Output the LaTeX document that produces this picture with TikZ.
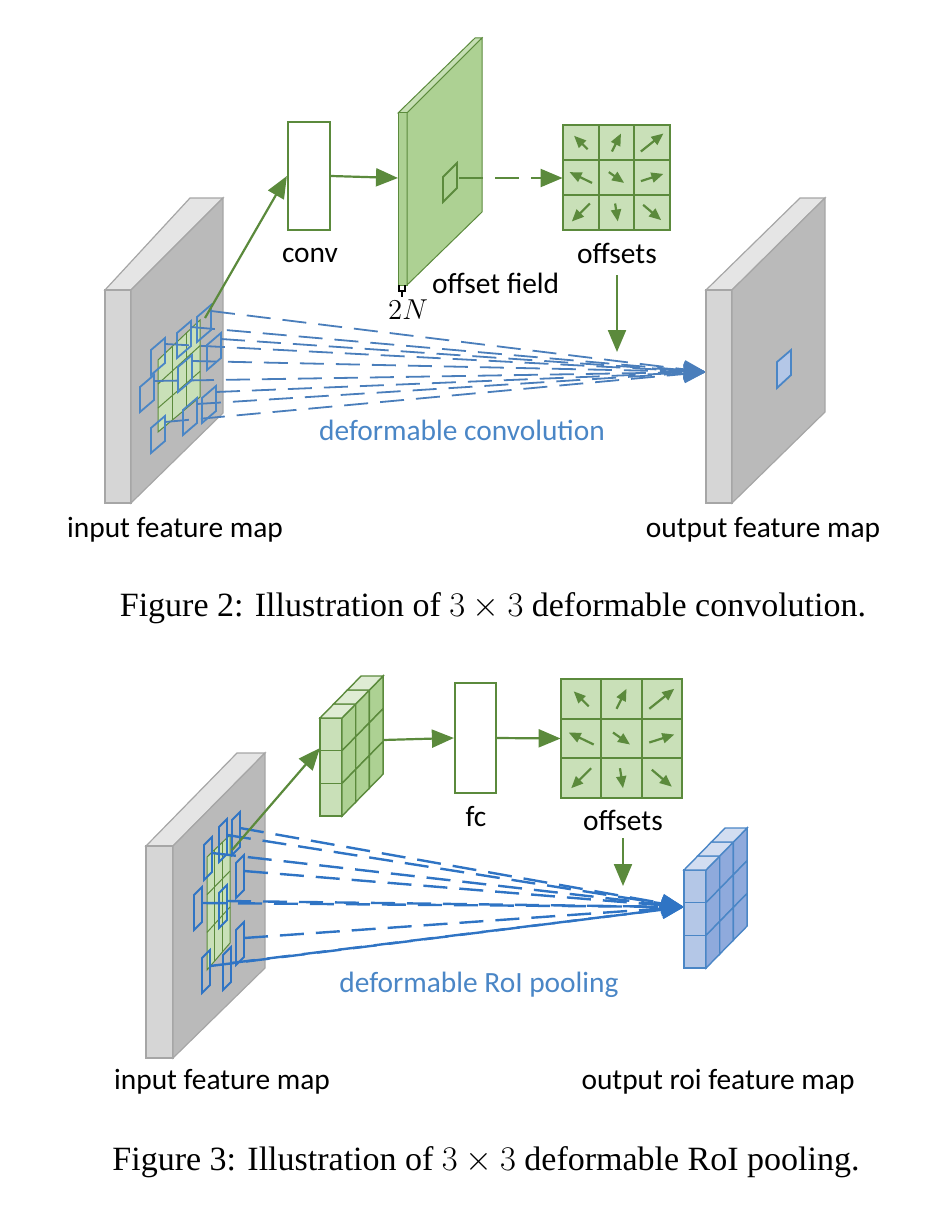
\documentclass[tikz,border=0pt]{standalone}
\usepackage{fontspec}
\setmainfont{Carlito}
\newfontfamily\capfont{Liberation Serif}
\usetikzlibrary{arrows.meta}
\definecolor{dgreen}{HTML}{5B8A3C}
\definecolor{lgreen}{HTML}{C9E0B8}
\definecolor{mgreen}{HTML}{ADD193}
\definecolor{dblue}{HTML}{4A7EBB}
\definecolor{bblue}{HTML}{2F74C4}
\definecolor{tblue}{HTML}{4A86C6}
\definecolor{lblue}{HTML}{B4C7E7}
\definecolor{mblue}{HTML}{8FAADC}

% one thin parallelogram (a sampling cell)
\newcommand{\cell}[3]{\draw[#3] (#1,#2) -- ++(14,-12) -- ++(0,25) -- ++(-14,12) -- cycle;}
\newcommand{\tallcell}[3]{\draw[#3] (#1,#2) -- ++(8,-8) -- ++(0,35) -- ++(-8,8) -- cycle;}

\begin{document}
\begin{tikzpicture}[x=0.5pt,y=-0.5pt,
    face/.style={draw=black!35, line width=0.6pt},
    gline/.style={draw=dgreen, line width=1.1pt},
    garrow/.style={gline, -{Triangle[length=11pt,width=9pt]}},
    gbox/.style={draw=dgreen, line width=1.1pt, fill=white},
    smallarrow/.style={dgreen,line width=1.1pt,-{Triangle[length=6pt,width=5pt]}},
    lbl/.style={font=\fontsize{14.7}{17}\selectfont},
    captxt/.style={font=\capfont\fontsize{17}{20}\selectfont}]
  \useasboundingbox (0,0) rectangle (952,1220);

  %% Figure 2
  % input feature map
  \fill[black!10,face] (105,290) -- (190,198) -- (223,198) -- (131,290) -- cycle;
  \fill[black!16,face] (105,290) rectangle (131,503);
  \fill[black!27,face] (131,290) -- (223,198) -- (223,413) -- (131,503) -- cycle;
  \fill[lgreen,draw=dgreen,line width=0.5pt] (158,360) -- (200,320) -- (200,397) -- (158,432) -- cycle;
  \foreach \t in {1,2} {
    \draw[dgreen,line width=0.5pt] (158+14*\t,360-13.3*\t) -- (158+14*\t,432-11.7*\t);
    \draw[dgreen,line width=0.5pt] (158,360+24*\t) -- (200,320+25.7*\t);
  }
  \coordinate (tip2) at (706,372);
  \foreach \x/\y in {151/350,177/333,197/317,140/387,178/367,207/345,151/428,183/410,202/398} {
    \cell{\x}{\y}{tblue, line width=0.9pt}
    \draw[dblue, line width=0.9pt, dash pattern=on 12pt off 6pt, -{Triangle[length=11pt,width=9pt]}]
      (\x+14,\y-6) -- (tip2);
  }
  \coordinate (src2) at (205,318);
  % conv and offset field
  \node[gbox, minimum width=21pt, minimum height=54pt, inner sep=0pt] (conv) at (309,176) {};
  \node[lbl] (convl) at (310,255) {conv};
  \fill[mgreen!70!white,draw=dgreen,line width=0.5pt] (398,113) -- (475,38) -- (482,38) -- (407,113) -- cycle;
  \fill[mgreen,draw=dgreen,line width=0.5pt] (398,113) rectangle (407,285);
  \fill[mgreen,draw=dgreen,line width=0.5pt] (407,113) -- (482,38) -- (482,212) -- (407,285) -- cycle;
  \draw[dgreen,line width=0.9pt] (443,177) -- (457,163) -- (457,188) -- (443,202) -- cycle;
  \coordinate (fld) at (398,178);
  \coordinate (win) at (459,178);
  \draw[black,line width=0.6pt] (399,285) -- (399,291) -- (405,291) -- (405,285) (402,291) -- (402,297);
  \node (twoN) at (408,310) {\fontsize{15}{17}\selectfont$2N$};
  \node[lbl, anchor=west] (fldl) at (425,283) {offset field};
  \draw[garrow] (src2) -- (conv.west);
  \draw[garrow] (conv.east) -- (fld);
  % offsets
  \node[inner sep=0pt, minimum width=53.5pt, minimum height=52.5pt] (off2) at (616.5,178) {};
  \draw[garrow, dash pattern=on 12pt off 6pt] (win) -- (off2.west);
  \foreach \i/\j/\dx/\dy in {0/0/-.15/-.15,1/0/.1/-.2,2/0/.25/-.2,0/1/-.25/-.12,1/1/.17/.12,2/1/.25/-.08,0/2/-.2/.2,1/2/.03/.2,2/2/.2/.17} {
    \fill[lgreen,draw=dgreen,line width=1pt] (563+35.67*\i,125+35*\j) rectangle ++(35.67,35);
    \draw[smallarrow]
      (563+35.67*\i+17.8-\dx*45,125+35*\j+17.5-\dy*45) -- ++(\dx*90,\dy*90);
  }
  \node[lbl] (offl2) at (617,253) {offsets};
  \coordinate (down2) at (617,352);
  \draw[garrow] (617,275) -- (down2);
  % output feature map
  \fill[black!10,face] (706,290) -- (800,198) -- (825,198) -- (732,290) -- cycle;
  \fill[black!16,face] (706,290) rectangle (732,503);
  \fill[black!27,face] (732,290) -- (825,198) -- (825,412) -- (732,503) -- cycle;
  \fill[lblue,draw=tblue,line width=0.9pt] (777,362) -- (791,350) -- (791,375) -- (777,388) -- cycle;
  \node[lbl, text=tblue] (dc) at (462,430) {deformable convolution};
  \node[lbl] (in2) at (175,530) {input feature map};
  \node[lbl] (out2) at (763,530) {output feature map};
  \node[captxt] (cap2) at (493,608) {Figure 2: Illustration of $3\times3$ deformable convolution.};

  %% Figure 3
  \fill[black!10,face] (146,846) -- (237,753) -- (265,753) -- (173,846) -- cycle;
  \fill[black!16,face] (146,846) rectangle (173,1058);
  \fill[black!27,face] (173,846) -- (265,753) -- (265,968) -- (173,1058) -- cycle;
  \fill[lgreen,draw=dgreen,line width=0.5pt] (207,857) -- (230,835) -- (230,943) -- (207,970) -- cycle;
  \foreach \t in {1,2} {
    \draw[dgreen,line width=0.5pt] (207+7.7*\t,857-7.3*\t) -- (207+7.7*\t,970-9*\t);
    \draw[dgreen,line width=0.5pt] (207,857+37.7*\t) -- (230,835+36*\t);
  }
  \coordinate (tip3) at (684,907);
  \foreach \x/\y in {204/845,219/827,232/820,194/895,219/893,236/863,202/958,223/955,236/930} {
    \tallcell{\x}{\y}{bblue, line width=0.9pt}
    \draw[bblue, line width=1.2pt, dash pattern=on 12pt off 6pt, -{Triangle[length=11pt,width=9pt]}]
      (\x+8,\y+8) -- (tip3);
  }
  \coordinate (src3) at (232,850);
  % stacked cells
  \foreach \f/\s/\tp/\d/\x/\y/\nm in {lgreen/mgreen/lgreen!60!white/dgreen/320/718/gst,lblue/mblue/lblue!60!white/tblue/684/870/bst} {
    \foreach \r in {0,1,2} \fill[\f,draw=\d,line width=0.7pt] (\x,\y+32.7*\r) rectangle ++(22,32.7);
    \foreach \c in {0,1,2} {
      \foreach \r in {0,1,2}
        \fill[\s,draw=\d,line width=0.7pt] (\x+22+13.7*\c,\y-14*\c+32.7*\r) -- ++(13.7,-14) -- ++(0,32.7) -- ++(-13.7,14) -- cycle;
      \fill[\tp,draw=\d,line width=0.7pt] (\x+13.7*\c,\y-14*\c) -- ++(22,0) -- ++(13.7,-14) -- ++(-22,0) -- cycle;
    }
    \coordinate (\nm) at (\x,\y+30);
  }
  \node[gbox, minimum width=20.5pt, minimum height=55pt, inner sep=0pt] (fc) at (475.5,738) {};
  \node[lbl] (fcl) at (476,817) {fc};
  \coordinate (gside) at (383,740);
  \draw[garrow] (src3) -- (gst);
  \draw[garrow] (gside) -- (fc.west);
  \node[inner sep=0pt, minimum width=60.5pt, minimum height=59.5pt] (off3) at (621.5,738.5) {};
  \draw[garrow] (fc.east) -- (off3.west);
  \foreach \i/\j/\dx/\dy in {0/0/-.15/-.15,1/0/.1/-.2,2/0/.25/-.2,0/1/-.25/-.12,1/1/.17/.12,2/1/.25/-.08,0/2/-.2/.2,1/2/.03/.2,2/2/.2/.17} {
    \fill[lgreen,draw=dgreen,line width=1pt] (561+40.3*\i,679+39.7*\j) rectangle ++(40.3,39.7);
    \draw[smallarrow]
      (561+40.3*\i+20.2-\dx*50,679+39.7*\j+19.8-\dy*50) -- ++(\dx*100,\dy*100);
  }
  \node[lbl] (offl3) at (623,820) {offsets};
  \coordinate (down3) at (623,886);
  \draw[garrow] (623,838) -- (down3);
  \node[lbl, text=tblue] (drp) at (479,985) {deformable RoI pooling};
  \node[lbl] (in3) at (222,1082) {input feature map};
  \node[lbl] (out3) at (718,1082) {output roi feature map};
  \node[captxt] (cap3) at (486,1162) {Figure 3: Illustration of $3\times3$ deformable RoI pooling.};
\end{tikzpicture}
\end{document}
